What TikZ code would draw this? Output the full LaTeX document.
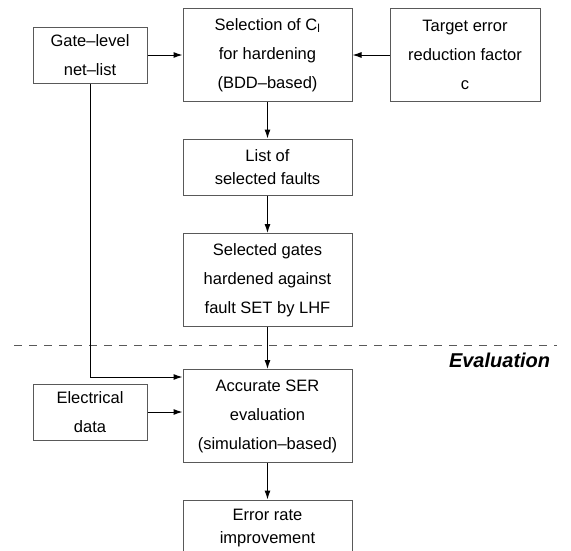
\documentclass[tikz,border=0pt]{standalone}
\usepackage{fontspec}
\setmainfont{Liberation Sans}
\usetikzlibrary{arrows.meta,positioning}
\begin{document}
\begin{tikzpicture}[x=1pt, y=-1pt, >={Latex[length=9pt,width=6pt]}, line width=1pt,
  font=\fontsize{16.5}{29}\selectfont,
  box/.style={draw=black!65, fill=white, align=center, inner sep=0pt, minimum width=169pt},
  tall/.style={box, minimum height=93pt},
  short/.style={box, minimum height=56pt, font=\fontsize{16.5}{23}\selectfont},
  side/.style={box, minimum width=114pt, minimum height=56pt},
  lab/.style={font=\fontsize{20}{22}\selectfont\bfseries\itshape}]
\useasboundingbox[fill=white] (0,0) rectangle (571,550);
% upper part: fault selection and hardening
\node[tall] (select) at (267.5,55) {Selection of C\textsubscript{l}\\for hardening\\(BDD--based)};
\node[side] (gate) at (90,55) {Gate--level\\net--list};
\node[tall, minimum width=150pt] (target) at (465,55) {Target error\\reduction factor\\c};
\node[short] (faults) at (267.5,167) {List of\\selected faults};
\node[tall] (harden) at (267.5,280) {Selected gates\\hardened against\\fault SET by LHF};
% lower part: evaluation
\draw[dashed, dash pattern=on 8pt off 7pt, draw=black!65] (14,345) -- (557,345);
\node[lab, anchor=east] (evaltag) at (554,360) {Evaluation};
\node[tall] (ser) at (267.5,416) {Accurate SER\\evaluation\\(simulation--based)};
\node[side] (elec) at (90,412) {Electrical\\data};
\node[short] (improve) at (267.5,528) {Error rate\\improvement};
\draw[->] (gate) -- (select);
\draw[->] (target) -- (select);
\draw[->] (select) -- (faults);
\draw[->] (faults) -- (harden);
\draw[->] (harden) -- (ser);
\draw[->] (ser) -- (improve);
\draw[->] (elec) -- (elec -| ser.west);
\draw[->] (gate.south) |- ([yshift=-8pt]ser.north west);
\end{tikzpicture}
\end{document}
